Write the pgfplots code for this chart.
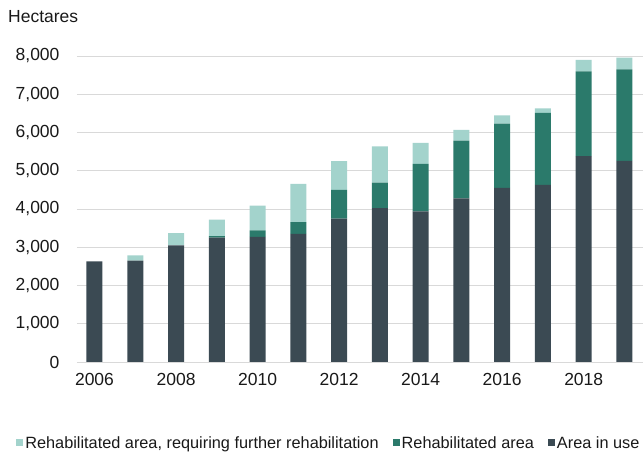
\documentclass[border=0pt]{standalone}
\usepackage{pgfplots}
\pgfplotsset{compat=1.18}
\usepackage{fontspec}
\setmainfont{Liberation Sans}
\definecolor{inuse}{HTML}{3B4A53}
\definecolor{rehab}{HTML}{2B7A6B}
\definecolor{further}{HTML}{A3D3CC}
\definecolor{gridc}{HTML}{D9D9D9}
\begin{document}
\begin{tikzpicture}
\begin{axis}[
  scale only axis,
  width=566pt, height=306pt,
  xmin=2005.571, xmax=2019.454,
  ymin=0, ymax=8000,
  ybar stacked, bar width=16pt,
  axis line style={draw=none},
  major tick length=0pt,
  ymajorgrids, grid style={gridc, line width=0.9pt},
  ytick={0,1000,...,8000},
  xtick={2006,2008,...,2018},
  xticklabels={2006,2008,2010,2012,2014,2016,2018},
  /pgf/number format/assume math mode=true,
  scaled y ticks=false,
  yticklabel style={/pgf/number format/1000 sep={,}, font=\fontsize{17.5}{20}\selectfont, text=black!90, xshift=-14pt},
  xticklabel style={font=\fontsize{17.5}{20}\selectfont, text=black!90, yshift=-8pt},
  legend columns=3,
  reverse legend,
  legend style={draw=none, fill=none, at={(0.445,-0.265)}, anchor=center,
    font=\fontsize{16.3}{19}\selectfont, text=black!90,
    /tikz/every even column/.append style={column sep=12pt},
    inner sep=0pt},
  legend image code/.code={\fill[#1] (0pt,-3pt) rectangle (7pt,4pt);},
]
\addplot[fill=inuse, draw=none] coordinates {
(2006,2630) (2007,2650) (2008,3050) (2009,3250) (2010,3270) (2011,3350) (2012,3750)
(2013,4020) (2014,3940) (2015,4280) (2016,4550) (2017,4630) (2018,5380) (2019,5260)};
\addlegendentry{Area in use}
\addplot[fill=rehab, draw=none] coordinates {
(2006,0) (2007,0) (2008,0) (2009,40) (2010,170) (2011,310) (2012,750)
(2013,670) (2014,1240) (2015,1510) (2016,1680) (2017,1880) (2018,2220) (2019,2390)};
\addlegendentry{Rehabilitated area}
\addplot[fill=further, draw=none] coordinates {
(2006,0) (2007,140) (2008,320) (2009,430) (2010,650) (2011,1000) (2012,750)
(2013,950) (2014,550) (2015,280) (2016,220) (2017,120) (2018,300) (2019,310)};
\addlegendentry{Rehabilitated area, requiring further rehabilitation}
\end{axis}
\node[anchor=base west, font=\fontsize{17.5}{20}\selectfont, text=black!90, inner sep=0pt]
  at ([xshift=-69pt, yshift=33pt]current axis.north west) {Hectares};
\pgfresetboundingbox
\path[use as bounding box] ([shift={(-77pt,-94pt)}]current axis.south west) rectangle ([shift={(0pt,56pt)}]current axis.north east);
\end{tikzpicture}
\end{document}
